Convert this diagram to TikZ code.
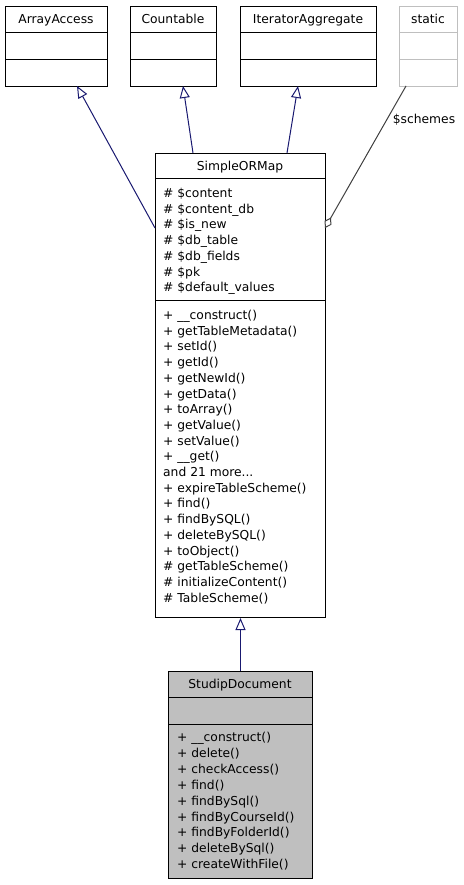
\documentclass[tikz,border=0pt]{standalone}
\usepackage{fontspec}
\setmainfont{DejaVu Sans}
\usetikzlibrary{arrows.meta}
\definecolor{edgeblue}{HTML}{191970}
\definecolor{edgegray}{HTML}{404040}
\definecolor{lightgr}{HTML}{BFBFBF}
\tikzset{
  boxframe/.style={draw=black, line width=1pt},
  txt/.style={inner sep=0pt, font=\fontsize{12.3}{15.7}\selectfont},
  inherit/.style={draw=edgeblue, line width=1pt, -{Triangle[open, fill=white, length=12pt, width=10pt]}},
  member/.style={draw=edgegray, line width=1pt, -{Diamond[open, fill=white, length=12pt, width=8pt]}},
}
\newcommand\moredots{...}
% \umlbox{name}{x1}{y1}{x2}{y2}{div1}{div2}{style}
\newcommand\umlbox[8]{%
  \node[#8, inner sep=0pt, minimum width=#4pt-#2pt, minimum height=#5pt-#3pt, anchor=north west] (#1) at (#2,#3) {};
  \draw[#8, fill=none] (#2,#6) -- (#4,#6);
  \draw[#8, fill=none] (#2,#7) -- (#4,#7);
}
\begin{document}
\begin{tikzpicture}[x=1pt,y=-1pt]
\useasboundingbox (0,0) rectangle (463,885);

% top boxes
\umlbox{aa}{5}{6}{107}{86}{33}{60}{boxframe}
\node[txt, anchor=base] (aaT) at (56,24) {ArrayAccess};
\umlbox{cnt}{130}{6}{216}{86}{33}{60}{boxframe}
\node[txt, anchor=base] (cntT) at (173,24) {Countable};
\umlbox{ia}{240}{6}{376}{86}{33}{60}{boxframe}
\node[txt, anchor=base] (iaT) at (308,24) {IteratorAggregate};
\umlbox{st}{399}{6}{457}{86}{33}{60}{draw=lightgr, line width=1pt}
\node[txt, anchor=base] (stT) at (428,24) {static};

% SimpleORMap
\umlbox{som}{155}{153}{325}{617}{179}{300}{boxframe}
\node[txt, anchor=base] (somT) at (240,170.5) {SimpleORMap};
\foreach [count=\i from 0] \t in {\# \$content,\# \$content\_db,\# \$is\_new,\# \$db\_table,\# \$db\_fields,\# \$pk,\# \$default\_values}
  \node[txt, anchor=base west] (somA\i) at (163,197.5+15.7*\i) {\t};
\foreach [count=\i from 0] \t in {+ \_\_construct(),+ getTableMetadata(),+ setId(),+ getId(),+ getNewId(),+ getData(),+ toArray(),+ getValue(),+ setValue(),+ \_\_get(),and 21 more\moredots,+ expireTableScheme(),+ find(),+ findBySQL(),+ deleteBySQL(),+ toObject(),\# getTableScheme(),\# initializeContent(),\# TableScheme()}
  \node[txt, anchor=base west] (somM\i) at (163,319.5+15.7*\i) {\t};

% StudipDocument
\umlbox{sd}{168}{671}{312}{878}{697}{724}{boxframe, fill=lightgr}
\node[txt, anchor=base] (sdT) at (240,688.5) {StudipDocument};
\foreach [count=\i from 0] \t in {+ \_\_construct(),+ delete(),+ checkAccess(),+ find(),+ findBySql(),+ findByCourseId(),+ findByFolderId(),+ deleteBySql(),+ createWithFile()}
  \node[txt, anchor=base west] (sdM\i) at (177,741.5+15.9*\i) {\t};

% connector end points
\coordinate (aaIn) at (77,86);
\coordinate (somAa) at (155,228);
\coordinate (cntIn) at (183,86);
\coordinate (somCnt) at (193,153);
\coordinate (iaIn) at (298,86);
\coordinate (somIa) at (287,153);
\coordinate (stOut) at (406,86);
\coordinate (somSt) at (325,228);

\draw[inherit] (somAa) -- (aaIn);
\draw[inherit] (somCnt) -- (cntIn);
\draw[inherit] (somIa) -- (iaIn);
\draw[member] (stOut) -- (somSt);
\node[txt, fill=white, inner sep=1pt] (schemes) at (424,120) {\$schemes};
\draw[inherit] (sd.north) -- (som.south);
\end{tikzpicture}
\end{document}
